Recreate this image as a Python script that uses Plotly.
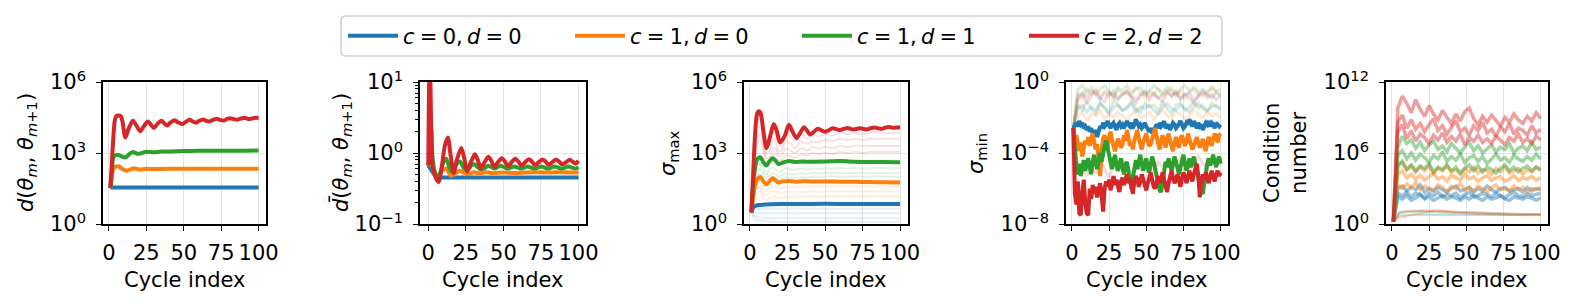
import plotly.graph_objects as go

# ---------------- colours ----------------
BLUE, ORANGE, GREEN, RED = "#1f77b4", "#ff7f0e", "#2ca02c", "#d62728"
SP = "\u2005"
SERIES_NAMES = [f"<i>c</i>{SP}={SP}0,\u2009<i>d</i>{SP}={SP}0", f"<i>c</i>{SP}={SP}1,\u2009<i>d</i>{SP}={SP}0",
                f"<i>c</i>{SP}={SP}1,\u2009<i>d</i>{SP}={SP}1", f"<i>c</i>{SP}={SP}2,\u2009<i>d</i>{SP}={SP}2"]

# ---------------- panel 1 : d(theta_m, theta_m+1)  (log10 values) ----------------
D_BLUE_X = [1, 10, 50, 100]
D_BLUE = [1.54, 1.54, 1.54, 1.54]
D_ORANGE_X = [1, 2, 3, 5, 7, 9, 12, 14, 17, 20, 25, 30, 40, 50, 60, 70, 80, 90, 100]
D_ORANGE = [1.52, 2.0, 2.35, 2.43, 2.42, 2.32, 2.25, 2.3, 2.36, 2.3,
            2.33, 2.32, 2.33, 2.33, 2.33, 2.33, 2.33, 2.33, 2.33]
D_GREEN_X = [1, 2, 3, 5, 7, 9, 11, 14, 16, 19, 22, 25, 30, 35, 40, 50, 60, 70, 80, 90, 100]
D_GREEN = [1.52, 2.3, 2.8, 2.92, 2.9, 2.84, 2.81, 2.97, 3.04, 2.97, 3.0,
           3.05, 3.03, 3.06, 3.06, 3.08, 3.09, 3.09, 3.1, 3.1, 3.11]
D_RED_X = [1, 2, 3, 4, 5, 6, 8, 9, 11, 13,
           16, 18, 21, 23, 26, 28, 30, 32, 35, 37,
           39, 41, 44, 46, 49, 51, 54, 56, 58, 60,
           63, 65, 67, 70, 72, 74, 77, 79, 81, 84,
           86, 88, 91, 93, 95, 98, 100]
D_RED = [1.52, 2.6, 3.7, 4.4, 4.56, 4.58, 4.55, 4.35, 3.65, 4.0,
         4.36, 4.2, 3.92, 4.1, 4.33, 4.2, 4.06, 4.2, 4.36, 4.25,
         4.16, 4.28, 4.38, 4.3, 4.22, 4.3, 4.4, 4.33, 4.28, 4.35,
         4.42, 4.36, 4.33, 4.41, 4.45, 4.4, 4.37, 4.44, 4.47, 4.42,
         4.41, 4.46, 4.48, 4.44, 4.45, 4.49, 4.48]

# ---------------- panel 2 : d-bar ----------------
DB_BLUE_X = [0, 2, 4, 6, 8, 10, 20, 50, 100]
DB_BLUE = [-0.176, -0.24, -0.3, -0.33, -0.34, -0.345, -0.345, -0.345, -0.345]
DB_ORANGE_X = [0, 2, 4, 6, 9, 12, 15, 18, 21, 24, 27, 30, 34, 38, 42, 50, 60, 70, 80, 90, 100]
DB_ORANGE = [-0.176, -0.15, -0.28, -0.33, -0.25, -0.22, -0.32, -0.29, -0.25, -0.28,
             -0.30, -0.27, -0.285, -0.27, -0.28, -0.275, -0.28, -0.27, -0.275, -0.27, -0.275]
DB_GREEN_X = [0, 1, 2, 3, 5, 7, 10, 12, 14, 16,
              19, 21, 24, 26, 29, 31, 34, 37, 40, 44,
              48, 53, 57, 62, 66, 71, 75, 80, 84, 89,
              93, 98, 100]
DB_GREEN = [-0.176, -0.1, 0.35, -0.1, -0.3, -0.33, -0.13, -0.08, -0.2, -0.27,
            -0.15, -0.12, -0.22, -0.24, -0.17, -0.16, -0.22, -0.22, -0.18, -0.22,
            -0.18, -0.22, -0.19, -0.22, -0.19, -0.22, -0.19, -0.22, -0.19, -0.22,
            -0.19, -0.22, -0.2]
DB_RED_X = [0, 1, 2, 3, 5, 7, 9, 11, 13, 15,
            17, 19, 22, 24, 26, 28, 31, 33, 35, 37,
            40, 42, 44, 46, 49, 51, 53, 55, 58, 60,
            62, 64, 67, 69, 71, 73, 76, 78, 80, 82,
            85, 87, 89, 91, 94, 96, 98, 100]
DB_RED = [-0.176, 1.5, 0.3, -0.2, -0.35, -0.41, -0.2, 0.1, 0.22, -0.05,
          -0.28, -0.1, 0.07, -0.08, -0.26, -0.15, -0.016, -0.1, -0.22, -0.15,
          -0.054, -0.11, -0.2, -0.14, -0.073, -0.12, -0.186, -0.14, -0.082, -0.12,
          -0.176, -0.14, -0.087, -0.12, -0.17, -0.14, -0.09, -0.12, -0.165, -0.14,
          -0.09, -0.12, -0.16, -0.14, -0.095, -0.12, -0.15, -0.11]

# ---------------- panel 3 : sigma_max ----------------
S_BLUE_X = [1, 2, 3, 4, 6, 10, 20, 40, 60, 80, 100]
S_BLUE = [0.49, 0.68, 0.75, 0.77, 0.8, 0.82, 0.84, 0.85, 0.85, 0.85, 0.85]
S_OG_X = [1, 3, 5, 7, 9, 11, 13, 15, 17, 19, 22, 26, 30, 35, 40, 50, 60, 70, 80, 90, 100]
S_ORANGE = [0.49, 1.5, 1.9, 1.98, 1.8, 1.68, 1.8, 1.93, 1.85, 1.75,
            1.8, 1.82, 1.79, 1.81, 1.8, 1.8, 1.79, 1.78, 1.77, 1.76, 1.75]
S_GREEN = [0.49, 2.2, 2.75, 2.82, 2.6, 2.47, 2.65, 2.78, 2.68, 2.53,
           2.6, 2.66, 2.62, 2.64, 2.63, 2.64, 2.66, 2.63, 2.62, 2.62, 2.61]
S_RED_X = [1, 2, 3, 4, 5, 6, 7, 8, 9, 11,
           13, 16, 18, 20, 23, 26, 28, 31, 33, 36,
           38, 40, 43, 45, 48, 50, 53, 55, 58, 60,
           63, 65, 68, 70, 73, 75, 78, 80, 83, 85,
           88, 90, 93, 95, 98, 100]
S_RED = [0.49, 1.9, 3.3, 4.3, 4.7, 4.76, 4.7, 4.4, 3.9, 3.2,
         3.6, 4.22, 3.9, 3.45, 3.7, 4.19, 3.95, 3.63, 3.8, 4.09,
         3.95, 3.78, 3.92, 4.02, 3.95, 3.9, 3.98, 4.05, 4.0, 3.97,
         4.03, 4.06, 4.0, 4.0, 4.05, 4.03, 3.99, 4.04, 4.08, 4.05,
         4.02, 4.07, 4.1, 4.07, 4.08, 4.09]
# faint per-layer curves
SF_X = [1, 3, 5, 7, 9, 11, 13, 15, 17, 19,
        21, 24, 27, 30, 34, 38, 42, 46, 50, 55,
        60, 65, 70, 75, 80, 85, 90, 95, 100]
SF_RED = [
    [0.5, 3.0, 4.3, 4.4, 3.8, 3.2, 3.5, 3.9, 3.8, 3.4,
     3.3, 3.8, 3.7, 3.5, 3.8, 3.6, 3.8, 3.7, 3.8, 3.75,
     3.85, 3.8, 3.85, 3.8, 3.85, 3.9, 3.85, 3.85, 3.85],
    [0.5, 2.8, 4.0, 4.1, 3.6, 3.0, 3.1, 3.6, 3.5, 3.1,
     3.1, 3.5, 3.4, 3.2, 3.5, 3.4, 3.5, 3.45, 3.55, 3.5,
     3.6, 3.55, 3.6, 3.55, 3.6, 3.6, 3.6, 3.6, 3.6],
    [0.5, 2.6, 3.7, 3.8, 3.3, 2.8, 2.8, 3.2, 3.2, 2.9,
     2.9, 3.2, 3.1, 3.0, 3.2, 3.1, 3.25, 3.2, 3.25, 3.2,
     3.3, 3.25, 3.3, 3.3, 3.3, 3.3, 3.3, 3.3, 3.3],
    [0.5, 2.4, 3.4, 3.5, 3.1, 2.6, 2.6, 2.9, 2.9, 2.7,
     2.7, 2.9, 2.85, 2.8, 2.95, 2.9, 3.0, 2.95, 3.0, 2.95,
     3.05, 3.0, 3.05, 3.0, 3.05, 3.05, 3.05, 3.05, 3.05],
]
SF_GREEN = [
    [0.5, 1.9, 2.5, 2.5, 2.3, 2.1, 2.3, 2.4, 2.3, 2.2,
     2.25, 2.35, 2.3, 2.3, 2.35, 2.3, 2.35, 2.33, 2.36, 2.34,
     2.36, 2.35, 2.37, 2.35, 2.36, 2.37, 2.36, 2.36, 2.36],
    [0.5, 1.7, 2.3, 2.3, 2.1, 1.9, 2.05, 2.15, 2.1, 2.0,
     2.05, 2.12, 2.1, 2.1, 2.13, 2.12, 2.15, 2.14, 2.15, 2.14,
     2.15, 2.16, 2.15, 2.14, 2.15, 2.16, 2.15, 2.15, 2.15],
    [0.5, 1.5, 2.1, 2.1, 1.9, 1.75, 1.9, 1.98, 1.95, 1.88,
     1.92, 1.97, 1.96, 1.96, 1.98, 1.97, 2.0, 1.99, 2.0, 2.01,
     2.0, 2.0, 2.01, 2.0, 2.0, 2.01, 2.0, 2.0, 2.0],
]
SF_ORANGE = [
    [0.5, 1.3, 1.7, 1.75, 1.5, 1.4, 1.55, 1.6, 1.55, 1.5,
     1.52, 1.57, 1.55, 1.55, 1.57, 1.56, 1.58, 1.57, 1.58, 1.58,
     1.58, 1.59, 1.58, 1.58, 1.58, 1.59, 1.58, 1.58, 1.58],
    [0.5, 1.1, 1.5, 1.55, 1.3, 1.2, 1.33, 1.4, 1.35, 1.3,
     1.32, 1.36, 1.35, 1.35, 1.36, 1.35, 1.37, 1.36, 1.37, 1.37,
     1.37, 1.38, 1.37, 1.37, 1.37, 1.38, 1.37, 1.37, 1.37],
    [0.5, 0.9, 1.3, 1.35, 1.1, 1.0, 1.12, 1.18, 1.14, 1.1,
     1.12, 1.15, 1.14, 1.14, 1.15, 1.15, 1.16, 1.15, 1.16, 1.16,
     1.16, 1.17, 1.16, 1.16, 1.16, 1.17, 1.16, 1.16, 1.16],
]
SFB_X = [1, 3, 6, 10, 20, 40, 70, 100]
SF_BLUE = [
    [0.5, 0.6, 0.64, 0.65, 0.66, 0.66, 0.66, 0.66],
    [0.5, 0.48, 0.46, 0.45, 0.45, 0.45, 0.45, 0.45],
    [0.5, 0.35, 0.28, 0.25, 0.24, 0.24, 0.24, 0.24],
    [0.5, 0.25, 0.15, 0.12, 0.1, 0.1, 0.1, 0.1],
]

# ---------------- panel 4 : sigma_min (every cycle 1..100) ----------------
M_BLUE = [-2.6, -2.4, -2.3, -2.5, -2.2, -2.4, -2.3, -2.6, -2.5, -2.7,
          -2.5, -2.8, -2.6, -2.9, -3.0, -2.7, -3.1, -2.8, -2.5, -2.6,
          -2.3, -2.5, -2.4, -2.2, -2.5, -2.6, -2.4, -2.3, -2.5, -2.7,
          -2.4, -2.3, -2.5, -2.4, -2.6, -2.3, -2.2, -2.4, -2.5, -2.3,
          -2.6, -2.4, -2.1, -2.3, -2.5, -2.4, -2.6, -2.5, -2.3, -2.5,
          -2.7, -2.8, -2.6, -2.9, -2.7, -2.5, -2.4, -2.6, -2.3, -2.5,
          -2.4, -2.2, -2.6, -2.5, -2.4, -2.7, -2.5, -2.3, -2.4, -2.6,
          -2.5, -2.3, -2.2, -2.4, -2.6, -2.5, -2.3, -2.4, -2.1, -2.3,
          -2.5, -2.2, -2.4, -2.6, -2.3, -2.5, -2.4, -2.7, -2.5, -2.3,
          -2.4, -2.2, -2.5, -2.3, -2.4, -2.6, -2.3, -2.4, -2.5, -2.4]
M_ORANGE = [-2.6, -3.2, -3.0, -3.6, -3.9, -3.4, -4.2, -3.7, -3.3, -3.5,
            -3.1, -3.6, -3.3, -2.9, -3.4, -3.8, -3.5, -4.5, -5.3, -3.9,
            -3.2, -3.0, -3.4, -3.7, -3.1, -2.8, -3.3, -3.6, -3.9, -3.5,
            -3.2, -3.4, -3.7, -3.5, -3.0, -3.3, -2.7, -3.1, -3.6, -3.4,
            -3.8, -3.3, -2.9, -2.7, -3.2, -3.5, -3.8, -3.4, -3.1, -2.9,
            -3.3, -3.6, -3.5, -3.2, -2.8, -2.6, -3.1, -3.5, -3.8, -3.3,
            -3.0, -3.4, -3.7, -3.2, -2.9, -3.3, -3.6, -3.9, -3.4, -3.1,
            -3.5, -3.7, -3.2, -3.0, -3.3, -3.6, -3.4, -2.9, -3.2, -3.5,
            -3.8, -3.6, -3.3, -3.1, -3.4, -3.7, -3.5, -3.2, -3.6, -3.9,
            -3.4, -3.1, -3.3, -3.6, -3.2, -2.9, -3.1, -3.4, -3.0, -2.9]
M_GREEN = [-2.6, -4.0, -4.8, -5.2, -4.6, -5.3, -4.9, -4.4, -5.0, -4.7,
           -4.3, -4.8, -5.2, -4.5, -4.1, -4.6, -4.9, -4.4, -4.0, -4.5,
           -3.9, -3.6, -3.3, -3.7, -4.2, -4.6, -4.9, -4.4, -4.1, -4.7,
           -5.0, -4.6, -4.3, -4.8, -5.2, -4.7, -4.5, -5.0, -5.6, -6.0,
           -5.4, -4.8, -4.4, -4.9, -4.5, -4.1, -4.6, -5.0, -4.7, -4.3,
           -4.8, -5.1, -4.6, -4.2, -4.5, -4.9, -5.3, -5.7, -6.1, -6.2,
           -5.5, -4.9, -4.5, -4.8, -4.3, -4.7, -5.0, -4.6, -4.2, -4.5,
           -4.9, -5.2, -4.8, -4.4, -4.1, -4.6, -5.0, -4.7, -4.3, -4.8,
           -4.5, -4.2, -4.6, -5.0, -5.3, -5.8, -6.2, -6.3, -5.6, -4.9,
           -4.6, -4.3, -4.7, -4.4, -4.1, -4.5, -4.8, -4.4, -4.2, -4.6]
M_RED = [-2.6, -6.3, -6.9, -5.6, -7.4, -7.5, -6.2, -5.5, -6.8, -7.4,
         -7.5, -6.0, -6.6, -5.8, -6.3, -5.9, -6.5, -6.1, -5.7, -6.4,
         -7.3, -6.0, -5.6, -5.9, -5.5, -6.1, -5.7, -5.3, -5.8, -5.5,
         -5.9, -6.2, -5.6, -5.4, -5.8, -5.5, -5.2, -5.7, -5.4, -5.9,
         -6.3, -5.6, -5.3, -5.5, -5.9, -5.6, -5.2, -5.5, -5.8, -6.1,
         -5.7, -5.4, -5.1, -5.5, -5.9, -6.0, -5.6, -5.3, -5.7, -5.4,
         -5.1, -5.5, -5.8, -6.2, -5.7, -5.3, -5.0, -5.4, -5.7, -5.5,
         -5.2, -5.6, -5.9, -5.4, -5.1, -5.3, -5.7, -5.4, -5.0, -5.3,
         -5.6, -5.2, -4.9, -4.6, -5.3, -6.5, -5.7, -5.2, -5.5, -5.1,
         -5.4, -5.7, -5.3, -5.0, -5.4, -5.6, -5.2, -5.0, -5.3, -5.1]
# faint per-layer curves, every third cycle (1, 4, ..., 100)
MF_BLUE = [
    [-2.6, -1.5, -1.3, -1.7, -1.4, -1.6, -1.2, -1.5, -1.8, -1.4,
     -1.3, -1.6, -1.5, -1.2, -1.7, -1.4, -1.5, -1.3, -1.6, -1.8,
     -1.4, -1.2, -1.5, -1.6, -1.3, -1.5, -1.7, -1.4, -1.2, -1.5,
     -1.6, -1.4, -1.3, -1.5],
    [-2.6, -0.8, -0.6, -0.9, -0.5, -0.7, -1.0, -0.6, -0.8, -0.5,
     -0.9, -0.7, -0.6, -0.8, -1.0, -0.7, -0.5, -0.8, -0.6, -0.9,
     -0.7, -0.5, -0.8, -0.6, -0.9, -0.7, -0.6, -1.0, -0.8, -0.5,
     -0.7, -0.9, -0.6, -0.8],
]
MF_ORANGE = [
    [-2.6, -2.0, -1.7, -2.2, -1.8, -1.9, -1.6, -2.1, -1.8, -2.0,
     -1.7, -1.9, -2.2, -1.8, -1.6, -2.0, -1.9, -1.7, -2.1, -1.8,
     -1.6, -1.9, -2.0, -1.7, -1.8, -2.1, -1.9, -1.6, -1.8, -2.0,
     -1.7, -1.9, -1.8, -2.0],
    [-2.6, -0.6, -0.9, -0.4, -0.7, -0.3, -0.8, -0.5, -0.6, -0.9,
     -0.4, -0.7, -0.5, -0.8, -0.3, -0.6, -0.9, -0.5, -0.7, -0.4,
     -0.8, -0.6, -0.3, -0.7, -0.5, -0.9, -0.6, -0.4, -0.7, -0.8,
     -0.5, -0.3, -0.6, -0.7],
]
MF_GREEN = [
    [-2.6, -1.3, -1.6, -1.1, -1.5, -1.8, -1.2, -1.4, -1.7, -1.0,
     -1.3, -1.6, -1.4, -1.1, -1.5, -1.7, -1.2, -1.4, -1.3, -1.6,
     -1.1, -1.5, -1.8, -1.3, -1.2, -1.6, -1.4, -1.1, -1.5, -1.3,
     -1.7, -1.2, -1.4, -1.6],
    [-2.6, -0.4, -0.2, -0.6, -0.3, -0.7, -0.4, -0.2, -0.5, -0.8,
     -0.3, -0.5, -0.2, -0.6, -0.4, -0.3, -0.7, -0.5, -0.2, -0.4,
     -0.6, -0.3, -0.5, -0.8, -0.4, -0.2, -0.5, -0.3, -0.6, -0.4,
     -0.7, -0.3, -0.5, -0.4],
]
MF_RED = [
    [-2.6, -1.0, -0.7, -1.2, -0.8, -0.5, -0.9, -1.1, -0.6, -0.8,
     -1.0, -0.7, -0.5, -0.9, -1.2, -0.8, -0.6, -1.0, -0.7, -0.9,
     -1.1, -0.6, -0.8, -0.5, -1.0, -0.7, -0.9, -1.2, -0.8, -0.6,
     -0.9, -0.7, -1.0, -0.8],
    [-2.6, -5.0, -4.6, -5.3, -4.8, -5.1, -4.5, -4.9, -5.4, -4.7,
     -5.0, -4.4, -4.8, -5.2, -4.6, -4.9, -4.3, -4.7, -5.1, -4.5,
     -4.8, -4.4, -5.0, -4.6, -4.3, -4.7, -5.0, -4.5, -4.2, -4.6,
     -4.9, -4.4, -4.7, -4.5],
]

# ---------------- panel 5 : condition number (every third cycle) ----------------
C_RED = [
    [0.2, 9.8, 10.8, 10.2, 9.4, 10.5, 9.7, 9.1, 10.0, 9.3,
     8.8, 9.6, 9.0, 8.5, 9.3, 8.7, 9.5, 9.8, 8.9, 8.4,
     9.1, 8.6, 9.2, 8.7, 8.3, 9.0, 8.6, 9.3, 8.8, 8.5,
     9.1, 8.7, 9.4, 8.9],
    [0.2, 8.6, 9.2, 8.1, 8.8, 8.0, 8.5, 7.8, 8.4, 8.9,
     7.9, 8.3, 7.6, 8.2, 8.7, 7.8, 8.1, 7.5, 8.3, 7.9,
     8.6, 7.7, 8.0, 7.4, 8.2, 7.8, 8.5, 7.6, 8.1, 7.9,
     7.5, 8.3, 7.7, 8.0],
    [0.2, 7.8, 8.4, 7.2, 7.9, 7.0, 7.6, 7.3, 6.8, 7.5,
     7.1, 7.7, 6.9, 7.4, 7.0, 7.6, 6.7, 7.3, 7.0, 7.5,
     6.9, 7.2, 6.8, 7.4, 7.1, 6.7, 7.3, 7.0, 7.6, 6.9,
     7.2, 6.8, 7.4, 7.1],
]
C_GREEN = [
    [0.2, 6.5, 7.4, 6.8, 7.1, 6.4, 6.9, 6.2, 6.7, 7.0,
     6.3, 6.6, 6.1, 6.8, 6.4, 6.0, 6.5, 6.9, 6.2, 6.6,
     6.0, 6.4, 6.7, 6.1, 6.5, 6.3, 6.8, 6.0, 6.4, 6.6,
     6.2, 6.9, 6.3, 6.5],
    [0.2, 5.8, 6.2, 5.5, 6.0, 5.4, 5.9, 5.6, 5.2, 5.8,
     5.5, 6.1, 5.3, 5.7, 5.4, 5.9, 5.2, 5.6, 5.8, 5.3,
     5.7, 5.1, 5.5, 5.9, 5.4, 5.6, 5.2, 5.8, 5.5, 5.3,
     5.7, 5.4, 5.9, 5.5],
    [0.2, 4.9, 5.3, 4.6, 5.0, 4.5, 4.9, 4.7, 5.1, 4.4,
     4.8, 4.6, 5.0, 4.5, 4.8, 4.3, 4.7, 5.0, 4.5, 4.9,
     4.4, 4.8, 4.6, 4.3, 4.7, 5.0, 4.5, 4.8, 4.4, 4.7,
     4.9, 4.5, 4.8, 4.6],
]
C_ORANGE = [
    [0.2, 5.0, 5.2, 4.6, 4.9, 4.4, 4.8, 4.5, 4.9, 4.3,
     4.7, 4.5, 4.9, 4.4, 4.6, 4.2, 4.7, 4.4, 4.8, 4.3,
     4.6, 4.5, 4.2, 4.7, 4.4, 4.8, 4.3, 4.5, 4.7, 4.2,
     4.6, 4.4, 4.8, 4.5],
    [0.2, 4.2, 4.5, 3.9, 4.2, 3.8, 4.1, 3.7, 4.0, 4.3,
     3.8, 4.0, 3.6, 4.1, 3.9, 3.7, 4.2, 3.8, 4.0, 3.6,
     3.9, 4.1, 3.7, 3.9, 4.0, 3.6, 3.8, 4.1, 3.7, 3.9,
     3.8, 4.0, 3.7, 3.9],
    [0.2, 3.3, 3.0, 3.4, 3.1, 3.5, 2.9, 3.2, 3.0, 2.8,
     3.3, 3.1, 2.7, 3.2, 3.0, 3.4, 2.9, 3.1, 2.8, 3.2,
     3.0, 2.7, 3.1, 3.3, 2.9, 3.0, 2.8, 3.2, 2.9, 3.1,
     2.7, 3.0, 2.9, 3.1],
]
C_BLUE = [
    [0.2, 3.0, 3.2, 2.8, 3.1, 2.9, 3.3, 2.7, 3.0, 2.8,
     3.1, 2.9, 2.7, 3.0, 3.2, 2.8, 2.9, 3.1, 2.7, 3.0,
     2.8, 3.2, 2.9, 2.7, 3.0, 3.1, 2.8, 2.9, 3.0, 2.7,
     3.1, 2.8, 3.0, 2.9],
    [0.2, 2.6, 2.4, 2.7, 2.3, 2.6, 2.5, 2.2, 2.6, 2.4,
     2.7, 2.3, 2.5, 2.4, 2.6, 2.2, 2.5, 2.7, 2.3, 2.4,
     2.6, 2.5, 2.3, 2.6, 2.4, 2.2, 2.5, 2.7, 2.4, 2.3,
     2.6, 2.4, 2.5, 2.6],
    [0.2, 2.3, 2.1, 2.4, 2.0, 2.2, 2.5, 2.1, 2.3, 2.0,
     2.2, 2.4, 2.1, 2.3, 2.2, 2.0, 2.3, 2.1, 2.4, 2.2,
     2.0, 2.3, 2.1, 2.2, 2.4, 2.1, 2.0, 2.3, 2.2, 2.1,
     2.3, 2.2, 2.0, 2.2],
]
C_LOW_X = [1, 5, 10, 20, 30, 40, 50, 60, 70, 80, 90, 100]
C_LOW_BLUE = [0.2, 0.7, 0.75, 0.8, 0.78, 0.76, 0.77, 0.75, 0.76, 0.77, 0.76, 0.76]
C_LOW_RED = [0.2, 1.0, 1.1, 1.15, 1.1, 1.05, 1.0, 0.95, 0.9, 0.85, 0.85, 0.85]
C_LOW_ORANGE = [0.2, 0.5, 0.7, 0.9, 1.2, 1.0, 0.9, 0.85, 0.8, 0.8, 0.75, 0.75]
C_LOW_GREEN = [0.2, 0.9, 1.0, 1.05, 1.0, 0.95, 0.9, 0.85, 0.85, 0.8, 0.8, 0.8]

# ---------------- axes text ----------------
X_TICKS = [0, 25, 50, 75, 100]
Y_TICKS = [
    ([0, 3, 6], ["10<sup>0</sup>", "10<sup>3</sup>", "10<sup>6</sup>"]),
    ([-1, 0, 1], ["10<sup>\u22121</sup>", "10<sup>0</sup>", "10<sup>1</sup>"]),
    ([0, 3, 6], ["10<sup>0</sup>", "10<sup>3</sup>", "10<sup>6</sup>"]),
    ([-8, -4, 0], ["10<sup>\u22128</sup>", "10<sup>\u22124</sup>", "10<sup>0</sup>"]),
    ([0, 6, 12], ["10<sup>0</sup>", "10<sup>6</sup>", "10<sup>12</sup>"]),
]
Y_RANGES = [[0, 6], [-1, 1], [0, 6], [-8, 0], [0, 12]]
X_RANGES = [[-3.95, 104.95], [-5.5, 105], [-3.95, 104.95], [-3.95, 104.95], [-3.95, 104.95]]
Y_TITLES = [
    "<i>d</i>(<i>θ</i><sub><i>m</i></sub>, <i>θ</i><sub><i>m</i>+1</sub>)",
    "<i>d\u0304</i>(<i>θ</i><sub><i>m</i></sub>, <i>θ</i><sub><i>m</i>+1</sub>)",
    "<i>σ</i><sub>max</sub>",
    "<i>σ</i><sub>min</sub>",
    "Condition<br>number",
]
X_TITLE = "Cycle index"

# ---------------- layout geometry (pixels) ----------------
W, H = 1578, 308
X_DOM_PX = [(103, 266), (420, 586), (744, 907.5), (1066, 1228), (1386, 1548)]
Y_DOM_PX = (82, 224)
Y_TITLE_X_PX = [27, 341, 669, 977, 1285]
FONT = "DejaVu Sans"
FS = 21


def rgba(hexc, a):
    h = hexc.lstrip("#")
    return "rgba(%d,%d,%d,%.3f)" % (int(h[0:2], 16), int(h[2:4], 16), int(h[4:6], 16), a)


fig = go.Figure()


def add(k, xs, logs, color, width=4.0, alpha=1.0, shape="spline", name=None, legend=False):
    n = min(len(xs), len(logs))
    fig.add_trace(go.Scatter(
        x=list(xs[:n]), y=[10 ** v for v in logs[:n]], mode="lines",
        line=dict(color=rgba(color, alpha), width=width, shape=shape,
                  smoothing=0.8 if shape == "spline" else None),
        name=name, showlegend=legend, hoverinfo="skip",
        xaxis="x" if k == 1 else "x%d" % k, yaxis="y" if k == 1 else "y%d" % k,
    ))


COLS = [BLUE, ORANGE, GREEN, RED]

# panel 1
for (xs, ys), c, nm in zip([(D_BLUE_X, D_BLUE), (D_ORANGE_X, D_ORANGE),
                            (D_GREEN_X, D_GREEN), (D_RED_X, D_RED)], COLS, SERIES_NAMES):
    add(1, xs, ys, c, name=nm, legend=True)

# panel 2
for (xs, ys), c in zip([(DB_BLUE_X, DB_BLUE), (DB_ORANGE_X, DB_ORANGE),
                        (DB_GREEN_X, DB_GREEN), (DB_RED_X, DB_RED)], COLS):
    add(2, xs, ys, c)

# panel 3
for ys in SF_BLUE:
    add(3, SFB_X, ys, BLUE, width=2, alpha=0.12)
for ys in SF_ORANGE:
    add(3, SF_X, ys, ORANGE, width=2, alpha=0.14)
for ys in SF_GREEN:
    add(3, SF_X, ys, GREEN, width=2, alpha=0.14)
for ys in SF_RED:
    add(3, SF_X, ys, RED, width=2, alpha=0.14)
add(3, S_BLUE_X, S_BLUE, BLUE)
add(3, S_OG_X, S_ORANGE, ORANGE)
add(3, S_OG_X, S_GREEN, GREEN)
add(3, S_RED_X, S_RED, RED)

# panel 4
CYC1 = list(range(1, len(M_BLUE) + 1))
CYC3 = list(range(1, 101, 3))
for group, c in [(MF_BLUE, BLUE), (MF_ORANGE, ORANGE), (MF_GREEN, GREEN), (MF_RED, RED)]:
    for ys in group:
        add(4, CYC3, ys, c, width=3, alpha=0.18, shape="linear")
for ys, c in zip([M_BLUE, M_ORANGE, M_GREEN, M_RED], COLS):
    add(4, CYC1, ys, c, width=4, shape="linear")

# panel 5
for xs_low, c in [(C_LOW_BLUE, BLUE), (C_LOW_ORANGE, ORANGE), (C_LOW_GREEN, GREEN), (C_LOW_RED, RED)]:
    add(5, C_LOW_X, xs_low, c, width=2, alpha=0.3, shape="linear")
for group, c in [(C_BLUE, BLUE), (C_ORANGE, ORANGE), (C_GREEN, GREEN), (C_RED, RED)]:
    for ys in group:
        add(5, CYC3, ys, c, width=3.5, alpha=0.45, shape="linear")

# ---------------- axes ----------------
ydom = [1 - Y_DOM_PX[1] / H, 1 - Y_DOM_PX[0] / H]
axis_common = dict(showline=True, linecolor="black", linewidth=1.6, mirror=True,
                   ticks="outside", ticklen=5, tickwidth=1.3, tickcolor="black",
                   showgrid=True, gridcolor="#e3e3e3", gridwidth=1, zeroline=False,
                   automargin=False,
                   tickfont=dict(family=FONT, size=FS, color="black"))
layout = {}
annotations = []
for k in range(1, 6):
    xd = X_DOM_PX[k - 1]
    xname = "xaxis" if k == 1 else "xaxis%d" % k
    yname = "yaxis" if k == 1 else "yaxis%d" % k
    layout[xname] = dict(axis_common, domain=[xd[0] / W, xd[1] / W], range=X_RANGES[k - 1],
                         tickmode="array", tickvals=X_TICKS, ticklabelstandoff=4,
                         anchor="y" if k == 1 else "y%d" % k)
    tv, tt = Y_TICKS[k - 1]
    ycfg = dict(axis_common, domain=ydom, type="log", range=Y_RANGES[k - 1],
                tickmode="array", tickvals=[10 ** v for v in tv], ticktext=tt,
                ticklabelstandoff=6, anchor="x" if k == 1 else "x%d" % k)
    if k == 2:
        ycfg["minor"] = dict(ticks="outside", ticklen=3, tickwidth=1, tickcolor="black",
                             showgrid=False, tickmode="array",
                             tickvals=[0.2, 0.3, 0.4, 0.5, 0.6, 0.7, 0.8, 0.9,
                                       2, 3, 4, 5, 6, 7, 8, 9])
    layout[yname] = ycfg
    annotations.append(dict(text=X_TITLE, x=(xd[0] + xd[1]) / 2 / W, y=1 - 280 / H,
                             xref="paper", yref="paper", showarrow=False,
                             xanchor="center", yanchor="middle",
                             font=dict(family=FONT, size=FS, color="black")))
    annotations.append(dict(text=Y_TITLES[k - 1], x=Y_TITLE_X_PX[k - 1] / W,
                             y=1 - 153 / H, xref="paper", yref="paper", showarrow=False,
                             textangle=-90, xanchor="center", yanchor="middle",
                             font=dict(family=FONT, size=FS, color="black")))

# legend frame (rounded)
L, R, T, B = 341 / W, 1222 / W, 1 - 16 / H, 1 - 56 / H
rx, ry = 5 / W, 5 / H
frame = (f"M {L+rx},{T} L {R-rx},{T} Q {R},{T} {R},{T-ry} L {R},{B+ry} Q {R},{B} {R-rx},{B} "
         f"L {L+rx},{B} Q {L},{B} {L},{B+ry} L {L},{T-ry} Q {L},{T} {L+rx},{T} Z")

fig.update_layout(
    width=W, height=H, margin=dict(l=0, r=0, t=0, b=0, autoexpand=False),
    paper_bgcolor="white", plot_bgcolor="white",
    font=dict(family=FONT, size=FS, color="black"),
    showlegend=True, hovermode=False,
    legend=dict(orientation="h", x=343 / W, xanchor="left", y=1 - 36 / H, yanchor="middle",
                bgcolor="rgba(0,0,0,0)", borderwidth=0, itemwidth=50,
                entrywidth=162, entrywidthmode="pixels",
                font=dict(family=FONT, size=FS, color="black")),
    annotations=annotations,
    shapes=[dict(type="path", path=frame, xref="paper", yref="paper",
                 line=dict(color="#d0d0d0", width=1.5), fillcolor="rgba(255,255,255,0.8)",
                 layer="below")],
    **layout,
)

fig.write_html("out.html", config={"displayModeBar": False},
               post_script="document.body.style.margin='0';document.body.style.overflow='hidden';")
